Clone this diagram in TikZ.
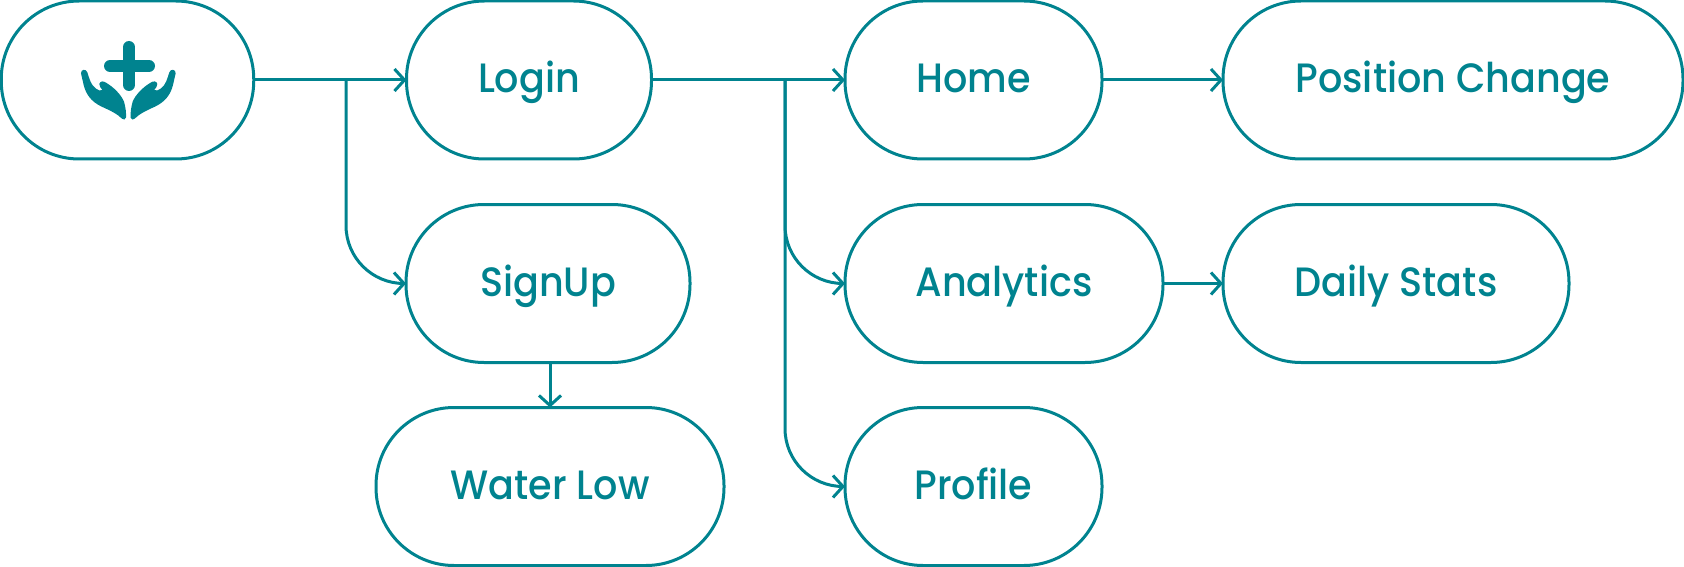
\documentclass[tikz,border=0pt]{standalone}
\usepackage{fontspec}
\setmainfont[FakeStretch=0.93]{Poppins Medium}
\usetikzlibrary{arrows.meta}
\definecolor{teal}{HTML}{00838F}
\tikzset{
  x=1pt,y=-1pt,
  pill/.style={draw=teal,line width=3pt,rectangle,rounded corners=78pt,minimum height=158pt,outer sep=0pt,inner sep=0pt,text=teal,text height=36pt,text depth=10pt,font=\fontsize{41}{48}\selectfont},
  conn/.style={draw=teal,line width=3pt,-{Straight Barb[length=10pt,width=22pt,line width=3pt]}},
  curved/.style={conn,rounded corners=58pt},
}
\begin{document}
\begin{tikzpicture}
\useasboundingbox (0,0) rectangle (1684,567);
\node[pill,minimum width=252.5pt] (root) at (127.5,80) {};
\node[pill,minimum width=245pt] (login) at (529,80) {Login};
\node[pill,minimum width=257pt] (home) at (973.5,80) {Home};
\node[pill,minimum width=460pt] (pos) at (1453,80) {Position Change};
\node[pill,minimum width=284pt] (signup) at (548,283.5) {SignUp};
\node[pill,minimum width=318pt] (analytics) at (1004,283.5) {Analytics};
\node[pill,minimum width=346pt] (daily) at (1396,283.5) {Daily Stats};
\node[pill,minimum width=348pt] (water) at (550,486.5) {Water Low};
\node[pill,minimum width=257pt] (profile) at (973.5,486.5) {Profile};
% icon
\draw[teal,line width=12pt,line cap=round] (129,47) -- (129,85);
\draw[teal,line width=12pt,line cap=round] (110,66) -- (149,66);
\begin{scope}[shift={(60,30)},x=0.3333pt,y=-0.3333pt]
\foreach \m/\o in {1/0,-1/410}{
\begin{scope}[shift={(\o,0)},xscale=\m]
\fill[teal] (63,130) .. controls (62,118) and (78,115) .. (82,127)
  .. controls (88,145) and (92,165) .. (108,176)
  .. controls (114,181) and (122,184) .. (127,180)
  .. controls (122,174) and (118,168) .. (118,162)
  .. controls (120,153) and (130,152) .. (138,158)
  .. controls (162,172) and (184,195) .. (192,215)
  .. controls (197,232) and (199,250) .. (198,263)
  .. controls (197,270) and (189,270) .. (186,266)
  .. controls (172,252) and (152,242) .. (125,230)
  .. controls (92,214) and (78,192) .. (71,165) -- cycle;
\end{scope}}
\end{scope}
% connectors
\coordinate (b1) at (346,80);
\coordinate (b2) at (785,80);
\draw[conn] (root) -- (login);
\draw[conn] (login) -- (home);
\draw[conn] (home) -- (pos);
\draw[conn] (analytics) -- (daily);
\draw[conn] (signup.south -| water.north) -- (water.north);
\draw[curved] (b1) |- (signup.west);
\draw[curved] (b2) |- (analytics.west);
\draw[curved] (b2) |- (profile.west);
\end{tikzpicture}
\end{document}
